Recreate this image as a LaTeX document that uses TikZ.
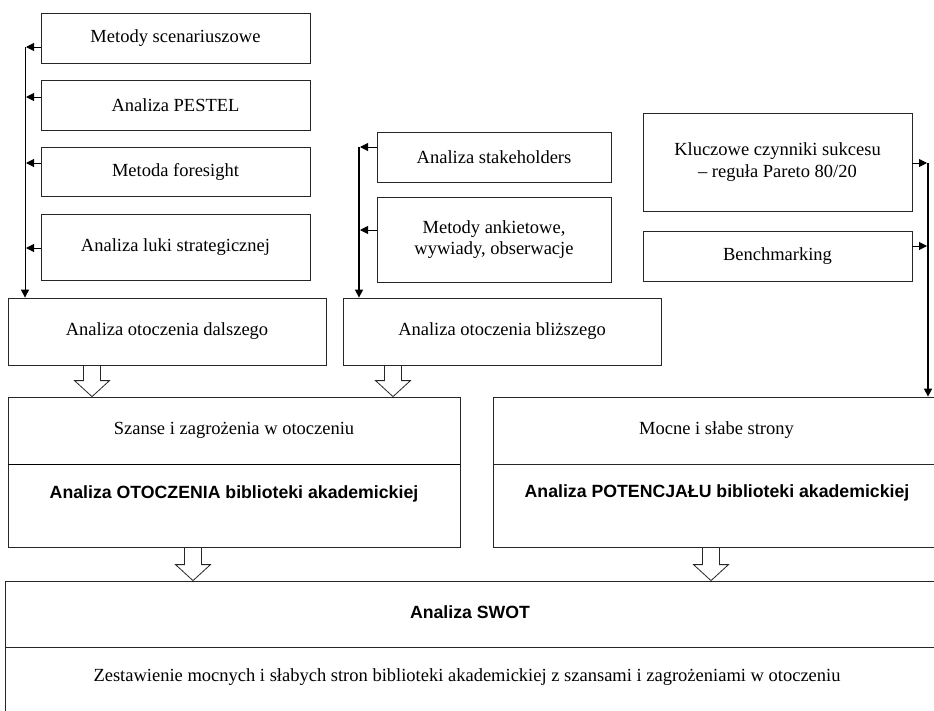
\documentclass[tikz,border=0pt]{standalone}
\usepackage{fontspec}
\setmainfont{Liberation Serif}
\setsansfont{Liberation Sans}
\usetikzlibrary{arrows.meta,calc}
\newcommand\hollowdown[3]{%
  \draw[hollow] let \p1=(#2.south), \p2=(#3.north) in
    (#1pt-8.5pt,\y1) -- (#1pt+8.5pt,\y1) -- (#1pt+8.5pt,\y2+16pt) -- (#1pt+17.5pt,\y2+16pt)
    -- (#1pt,\y2) -- (#1pt-17.5pt,\y2+16pt) -- (#1pt-8.5pt,\y2+16pt) -- cycle;}
\begin{document}
\begin{tikzpicture}[x=1pt,y=-1pt,
  box/.style={draw=black!85, line width=0.8pt, rectangle, inner sep=0pt, align=center,
    font={\fontsize{18.5}{21.5}\selectfont}},
  lbl/.style={inner sep=0pt, align=center, font={\fontsize{18.5}{21.5}\selectfont}},
  blbl/.style={inner sep=0pt, font={\sffamily\bfseries\fontsize{17.7}{20}\selectfont}},
  conn/.style={line width=1pt, -{Triangle[length=8pt,width=8pt]}},
  hollow/.style={draw=black!85, line width=0.8pt, fill=white, line join=miter},
]
\useasboundingbox (0,0) rectangle (934,710);

% left column
\node[box, minimum width=269, minimum height=50] (ms) at (175.5,38) {Metody scenariuszowe};
\node[box, minimum width=269, minimum height=50] (pe) at (175.5,105) {Analiza PESTEL};
\node[box, minimum width=269, minimum height=49] (fo) at (175.5,171.5) {Metoda foresight};
\node[box, minimum width=269, minimum height=66] (lu) at (175.5,247) {Analiza luki strategicznej};
\node[box, minimum width=318, minimum height=67] (da) at (167,331.5) {Analiza otoczenia dalszego};

% middle column
\node[box, minimum width=234, minimum height=50] (sh) at (494,157) {Analiza stakeholders};
\node[box, minimum width=234, minimum height=85] (an) at (494,239.5) {Metody ankietowe,\\wywiady, obserwacje};
\node[box, minimum width=318, minimum height=67] (bl) at (502,331.5) {Analiza otoczenia bliższego};

% right column
\node[box, minimum width=269, minimum height=98] (kl) at (777.5,162) {Kluczowe czynniki sukcesu\\– reguła Pareto 80/20};
\node[box, minimum width=269, minimum height=50] (be) at (777.5,256) {Benchmarking};

% environment analysis
\node[box, minimum width=452, minimum height=67] (sz) at (234,430.5) {Szanse i zagrożenia w otoczeniu};
\node[box, minimum width=452, minimum height=83] (ot) at (234,505.5) {};
\node[blbl] (otl) at (234,494) {Analiza OTOCZENIA biblioteki akademickiej};
\draw[line width=1.6pt] (sz.south west) -- (sz.south east);

% potential analysis
\node[box, minimum width=447, minimum height=67] (mo) at (716.5,430.5) {Mocne i słabe strony};
\node[box, minimum width=447, minimum height=83] (po) at (716.5,505.5) {};
\node[blbl] (pol) at (717,493) {Analiza POTENCJAŁU biblioteki akademickiej};

% SWOT
\node[box, minimum width=935, minimum height=66] (sw) at (472.5,614) {};
\node[blbl] (swl) at (470,612) {Analiza SWOT};
\node[box, minimum width=935, minimum height=65] (ze) at (472.5,679.5) {};
\node[lbl] (zel) at (467,677) {Zestawienie mocnych i słabych stron biblioteki akademickiej z szansami i zagrożeniami w otoczeniu};

% connector columns
\coordinate (lx) at (25,0);
\coordinate (mx) at (359,0);
\coordinate (rx) at (928,0);

% left connectors
\coordinate (p1) at ([yshift=-9pt]ms.west);
\coordinate (p2) at ([yshift=8pt]pe.west);
\coordinate (p3) at ([yshift=8.5pt]fo.west);
\coordinate (p4) at ([yshift=-1pt]lu.west);
\draw[conn] (p1 -| lx) -- (da.north -| lx);
\foreach \p in {p1,p2,p3,p4} \draw[conn] (\p) -- ([xshift=1pt]\p -| lx);

% middle connectors
\coordinate (q1) at ([yshift=10pt]sh.west);
\coordinate (q2) at ([yshift=9.5pt]an.west);
\draw[conn, line width=1.5pt] (q1 -| mx) -- (bl.north -| mx);
\foreach \p in {q1,q2} \draw[conn] (\p) -- ([xshift=1pt]\p -| mx);

% right connectors
\coordinate (r1) at ([yshift=-1pt]kl.east);
\coordinate (r2) at ([yshift=10pt]be.east);
\draw[conn, line width=1.5pt] (r1 -| rx) -- (mo.north -| rx);
\foreach \p in {r1,r2} \draw[conn] (\p) -- ([xshift=-1pt]\p -| rx);

% hollow block arrows
\hollowdown{92}{da}{sz}
\hollowdown{393}{bl}{sz}
\hollowdown{193}{ot}{sw}
\hollowdown{711}{po}{sw}
\end{tikzpicture}
\end{document}
